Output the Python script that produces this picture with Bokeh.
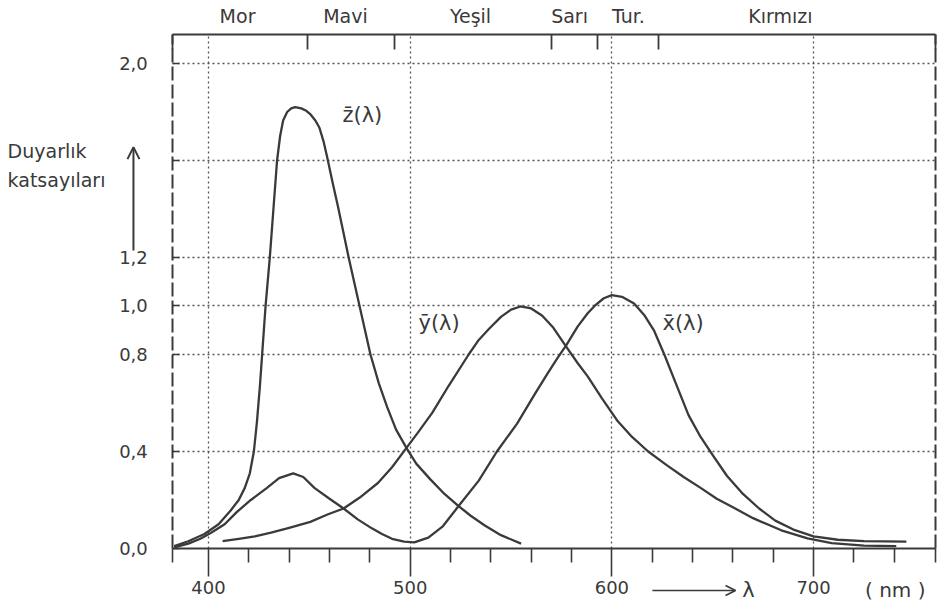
from bokeh.plotting import figure
from bokeh.models import LinearAxis, FixedTicker, Label, Arrow, OpenHead, Range1d, Grid
from bokeh.embed import file_html
from bokeh.resources import INLINE

# ---- data (wavelength in nm, sensitivity) ----
z_lam = [383, 390, 398, 405, 411, 415, 418, 420.5, 422.5, 424, 425.5, 426.6, 428.3, 430.4,
         432.2, 434, 435.5, 437, 439, 441, 443, 446, 448.5, 450.6, 453, 455, 457, 458.8,
         461.5, 464.2, 469.5, 474.9, 480.3, 484.5, 488.6, 493, 498.5, 503, 510, 517, 524,
         530, 537, 545, 555]
z_val = [0.01, 0.03, 0.06, 0.10, 0.157, 0.20, 0.25, 0.31, 0.40, 0.52, 0.67, 0.80, 1.00, 1.20,
         1.40, 1.60, 1.70, 1.765, 1.80, 1.815, 1.82, 1.815, 1.805, 1.79, 1.765, 1.735, 1.68,
         1.615, 1.51, 1.41, 1.20, 1.00, 0.80, 0.68, 0.583, 0.49, 0.41, 0.35, 0.285, 0.225,
         0.175, 0.135, 0.095, 0.055, 0.02]

x_lam = [383, 390, 396, 401.5, 408, 414, 421, 429, 435, 442, 447, 452.5, 460, 467, 474,
         481, 486, 491, 497, 502, 509, 516, 524, 534, 543, 553, 562, 568, 573, 577.5, 583,
         588, 592, 596, 600, 605, 611, 616, 621, 626, 632, 638, 644, 650, 657, 665, 673, 681,
         690, 700, 712, 725, 746]
x_val = [0.005, 0.02, 0.04, 0.066, 0.10, 0.15, 0.20, 0.25, 0.29, 0.31, 0.295, 0.25, 0.205,
         0.165, 0.12, 0.083, 0.06, 0.04, 0.028, 0.025, 0.045, 0.09, 0.175, 0.28, 0.40, 0.515,
         0.64, 0.72, 0.785, 0.84, 0.915, 0.97, 1.005, 1.032, 1.045, 1.038, 1.01, 0.963, 0.897,
         0.80, 0.675, 0.55, 0.46, 0.385, 0.30, 0.225, 0.165, 0.115, 0.078, 0.05, 0.036, 0.03,
         0.028]

y_lam = [407, 415, 423, 431, 440, 450.5, 459, 467, 475, 484, 491, 497.7, 504, 511, 519,
         529, 534, 539, 545, 550, 554.7, 560, 565.5, 571, 577, 583, 588, 595, 602.6,
         610, 618, 627, 635.6, 644, 652, 660, 670, 684, 697, 709, 725, 741]
y_val = [0.03, 0.04, 0.05, 0.065, 0.085, 0.11, 0.14, 0.165, 0.21, 0.27, 0.335, 0.41, 0.48,
         0.56, 0.67, 0.80, 0.86, 0.905, 0.955, 0.985, 0.998, 0.99, 0.96, 0.91, 0.837, 0.765,
         0.71, 0.62, 0.528, 0.46, 0.40, 0.345, 0.295, 0.25, 0.205, 0.17, 0.125, 0.075, 0.042,
         0.022, 0.012, 0.01]

x_major = [400, 500, 600, 700]
x_minor = [382.4, 420, 440, 460, 480, 520, 540, 560, 580, 620, 640, 660, 680, 720, 740, 760.3]
y_ticks = [0.0, 0.4, 0.8, 1.0, 1.2, 1.6, 2.0]
y_labels = {0.0: "0,0", 0.4: "0,4", 0.8: "0,8", 1.0: "1,0", 1.2: "1,2", 1.6: "", 2.0: "2,0"}
y_grid = [0.4, 0.8, 1.0, 1.2, 1.6, 2.0]

band_edges = [382.4, 449, 492, 570, 593, 623, 760.3]
band_centers = [414.4, 467.9, 529.9, 579, 608.2, 683.6]
band_names = ["Mor", "Mavi", "Yeşil", "Sarı", "Tur.", "Kırmızı"]

X0, X1 = 382.3, 760.4     # drawing box (nm)
Y0, Y1 = 0.0, 2.12        # drawing box (sensitivity)

INK = "#3a3a3a"
FONT = "DejaVu Sans"

p = figure(width=940, height=610,
           x_range=Range1d(296.88, 762.93), y_range=Range1d(-0.2557, 2.2598),
           output_backend="svg", toolbar_location=None,
           x_axis_location=None, y_axis_location=None,
           min_border=0, background_fill_color="white", border_fill_color="white")
p.outline_line_color = None
p.grid.visible = False


def style_labels(ax, size="18px"):
    ax.major_label_text_font = FONT
    ax.major_label_text_font_size = size
    ax.major_label_text_color = INK


# bottom axis
xa = LinearAxis(ticker=FixedTicker(ticks=x_major, minor_ticks=x_minor),
                fixed_location=Y0, bounds=(X0, X1))
xa.axis_line_color = INK
xa.axis_line_width = 2
xa.major_tick_in = 0
xa.major_tick_out = 28
xa.minor_tick_in = 0
xa.minor_tick_out = 14
xa.major_tick_line_color = INK
xa.minor_tick_line_color = INK
xa.major_tick_line_width = 1.6
xa.minor_tick_line_width = 1.6
xa.major_label_standoff = 5
style_labels(xa)
p.add_layout(xa, "below")

# left axis (dashed frame side)
ya = LinearAxis(ticker=FixedTicker(ticks=y_ticks), fixed_location=X0, bounds=(Y0, Y1))
ya.axis_line_color = INK
ya.axis_line_width = 2
ya.axis_line_dash = "14 4"
ya.major_tick_in = 7
ya.major_tick_out = 0
ya.minor_tick_line_color = None
ya.major_tick_line_color = INK
ya.major_tick_line_width = 1.6
ya.major_label_standoff = 25
ya.major_label_overrides = y_labels
style_labels(ya)
p.add_layout(ya, "left")

# right dashed frame side
ra = LinearAxis(ticker=FixedTicker(ticks=[]), fixed_location=X1, bounds=(Y0, Y1))
ra.axis_line_color = INK
ra.axis_line_width = 2
ra.axis_line_dash = "14 4"
ra.major_tick_line_color = None
ra.minor_tick_line_color = None
ra.major_label_text_font_size = "0px"
p.add_layout(ra, "right")

# top colour-band axis
ta = LinearAxis(ticker=FixedTicker(ticks=band_centers, minor_ticks=band_edges),
                fixed_location=Y1, bounds=(X0, X1))
ta.axis_line_color = INK
ta.axis_line_width = 2
ta.major_tick_in = 0
ta.major_tick_out = 0
ta.minor_tick_in = 15
ta.minor_tick_out = 0
ta.minor_tick_line_color = INK
ta.minor_tick_line_width = 1.8
ta.major_label_standoff = 7
ta.major_label_overrides = dict(zip(band_centers, band_names))
style_labels(ta, "19px")
p.add_layout(ta, "above")

# dotted grid
gx = Grid(dimension=0, ticker=FixedTicker(ticks=x_major), cross_bounds=(Y0, Y1))
gy = Grid(dimension=1, ticker=FixedTicker(ticks=y_grid), cross_bounds=(X0, X1))
for g in (gx, gy):
    g.grid_line_color = "#555555"
    g.grid_line_dash = "2 3"
    g.grid_line_width = 1.3
    p.add_layout(g, "center")

# curves
for lam, val in ((z_lam, z_val), (x_lam, x_val), (y_lam, y_val)):
    p.line(lam, val, line_color=INK, line_width=2.3, line_join="round")

# curve labels
for txt, lx, ly in (("z\u0304(λ)", 466.4, 1.786), ("y\u0304(λ)", 504.1, 0.928),
                    ("x\u0304(λ)", 625.1, 0.928)):
    p.add_layout(Label(x=lx, y=ly, text=txt, text_font=FONT, text_font_size="21px",
                       text_color=INK, text_baseline="middle", text_align="left"))

# y-axis caption and arrow
p.add_layout(Label(x=300.4, y=1.641, text="Duyarlık", text_font=FONT, text_font_size="19px",
                   text_color=INK, text_baseline="middle"))
p.add_layout(Label(x=300.4, y=1.518, text="katsayıları", text_font=FONT, text_font_size="19px",
                   text_color=INK, text_baseline="middle"))
p.add_layout(Arrow(x_start=362.8, y_start=1.229, x_end=362.8, y_end=1.655,
                   line_color=INK, line_width=2,
                   end=OpenHead(size=12, line_color=INK, line_width=2)))

# wavelength arrow and unit
p.add_layout(Arrow(x_start=620.1, y_start=-0.173, x_end=661.3, y_end=-0.173,
                   line_color=INK, line_width=1.6,
                   end=OpenHead(size=10, line_color=INK, line_width=1.6)))
p.add_layout(Label(x=667.7, y=-0.173, text="λ", text_font=FONT, text_font_size="21px",
                   text_color=INK, text_baseline="middle", text_align="center"))
p.add_layout(Label(x=725.5, y=-0.173, text="( nm )", text_font=FONT, text_font_size="20px",
                   text_color=INK, text_baseline="middle", text_align="left"))

open("out.html", "w").write(file_html(p, INLINE))
